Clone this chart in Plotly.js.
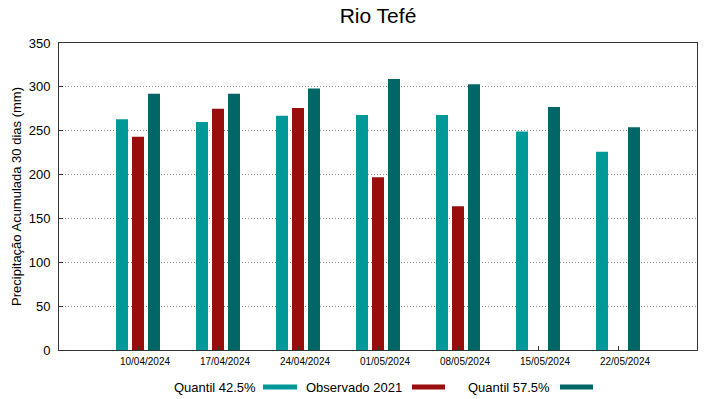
<!DOCTYPE html>
<html>
<head>
<meta charset="utf-8">
<script src="https://cdn.plot.ly/plotly-3.0.1.min.js"></script>
<style>html,body{margin:0;padding:0;background:#fff;}#chart{width:719px;height:399px;}</style>
</head>
<body>
<div id="chart"></div>
<script>
const dates = ["10/04/2024","17/04/2024","24/04/2024","01/05/2024","08/05/2024","15/05/2024","22/05/2024"];
const quantil425 = [263, 260, 267, 268, 268, 249, 226];
const observado2021 = [243, 275, 276, 197, 164, null, null];
const quantil575 = [292, 292, 298, 309, 303, 277, 254];
const seriesNames = ["Quantil 42.5%", "Observado 2021", "Quantil 57.5%"];
const seriesColors = ["#009999", "#990d0d", "#006666"];
const seriesValues = [quantil425, observado2021, quantil575];

const traces = seriesValues.map((vals, i) => ({
  type: "bar",
  x: dates,
  y: vals,
  name: seriesNames[i],
  marker: {color: seriesColors[i], line: {width: 0}},
  hoverinfo: "x+y+name"
}));

const plotL = 59, plotR = 697, plotT = 43, plotB = 350;
const pw = plotR - plotL, ph = plotB - plotT;
const px = v => (v - plotL) / pw;
const py = v => (plotB - v) / ph;

const legendItems = [
  {textRight: 258, swL: 263, swR: 297},
  {textRight: 404, swL: 412, swR: 445},
  {textRight: 552, swL: 560, swR: 593}
];
const legY = 387;
const annotations = legendItems.map((it, i) => ({
  xref: "paper", yref: "paper",
  x: px(it.textRight), y: py(legY),
  xanchor: "right", yanchor: "middle",
  text: seriesNames[i], showarrow: false,
  font: {size: 13, color: "#000"}
}));
const shapes = legendItems.map((it, i) => ({
  type: "rect", xref: "paper", yref: "paper",
  x0: px(it.swL), x1: px(it.swR),
  y0: py(legY + 2.5), y1: py(legY - 2.5),
  fillcolor: seriesColors[i], line: {width: 0}
}));

const layout = {
  width: 719, height: 399,
  margin: {l: plotL, r: 719 - plotR, t: plotT, b: 399 - plotB},
  paper_bgcolor: "#fff", plot_bgcolor: "#fff",
  font: {family: "Liberation Sans, Arial, sans-serif", color: "#000"},
  title: {text: "Rio Tefé", xref: "paper", x: 0.5, xanchor: "center", y: 0.962, yanchor: "middle", font: {size: 21, color: "#000"}},
  showlegend: false,
  barmode: "group",
  bargap: 0.4,
  bargroupgap: 0.25,
  xaxis: {
    type: "category",
    range: [-0.9875, 6.9875],
    showline: true, linecolor: "#333", linewidth: 1, mirror: true,
    ticks: "inside", ticklen: 4, tickcolor: "#333",
    showgrid: false, zeroline: false,
    tickfont: {size: 10, color: "#000"},
    ticklabelshift: 7,
    ticklabelstandoff: 2
  },
  yaxis: {
    range: [0, 350],
    tickvals: [0, 50, 100, 150, 200, 250, 300, 350],
    showline: true, linecolor: "#333", linewidth: 1, mirror: true,
    ticks: "inside", ticklen: 4, tickcolor: "#333",
    showgrid: true, gridcolor: "#8a8a8a", griddash: "1px,2px", gridwidth: 1,
    zeroline: false,
    tickfont: {size: 13, color: "#000"},
    ticklabelstandoff: 5,
    title: {text: "Precipitação Acumulada 30 dias (mm)", font: {size: 13, color: "#000"}, standoff: 4}
  },
  annotations: annotations,
  shapes: shapes
};

Plotly.newPlot("chart", traces, layout, {displayModeBar: false, staticPlot: true});
</script>
</body>
</html>
